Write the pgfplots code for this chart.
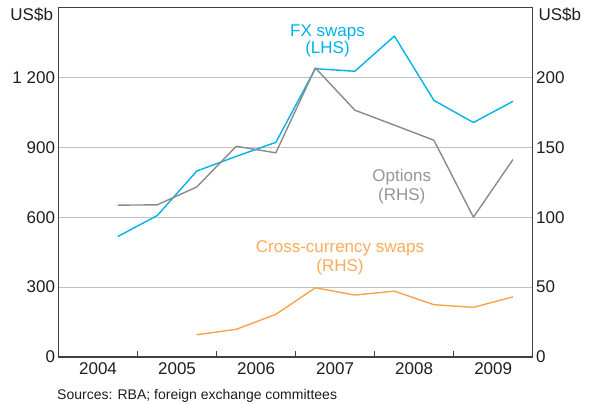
\documentclass[border=0pt]{standalone}
\usepackage{fontspec}
\setmainfont{Liberation Sans}
\usepackage{pgfplots}
\pgfplotsset{compat=1.18}
\definecolor{fxc}{RGB}{0,178,232}
\definecolor{optc}{RGB}{138,138,138}
\definecolor{optt}{RGB}{150,150,150}
\definecolor{ccsc}{RGB}{249,163,74}
\definecolor{ccst}{RGB}{250,172,92}
\definecolor{axc}{RGB}{64,64,64}
\definecolor{gridc}{RGB}{192,192,192}
\definecolor{txtc}{RGB}{30,30,30}
\begin{document}
\begin{tikzpicture}[font=\fontsize{17bp}{20bp}\selectfont]
\pgfplotsset{
  every axis/.append style={
    width=474.2bp, height=349.6bp, scale only axis,
    xmin=2004, xmax=2010,
    axis line style={axc, line width=1.4bp},
    major tick length=0pt,
    tick label style={font=\fontsize{17bp}{20bp}\selectfont, text=txtc},
  },
}
\begin{axis}[name=ax,
  ymin=0, ymax=1500,
  ytick={0,300,600,900,1200},
  yticklabels={0,300,600,900,1 200},
  ytick pos=left,
  ymajorgrids, grid style={gridc, line width=0.9bp},
  xtick={2004.5,2005.5,2006.5,2007.5,2008.5,2009.5},
  xticklabels={2004,2005,2006,2007,2008,2009},
  xtick pos=bottom,
  minor xtick={2005,2006,2007,2008,2009},
  minor tick length=6bp, tick align=inside,
  minor tick style={axc, line width=1.2bp},
  xticklabel style={yshift=-2bp},
  clip=false,
]
\addplot[fxc, line width=1.4bp, line join=round] coordinates {
  (2004.75,517) (2005.25,607) (2005.75,798) (2006.25,861) (2006.75,921)
  (2007.25,1237) (2007.75,1226) (2008.25,1377) (2008.75,1101) (2009.25,1006) (2009.75,1097)
};
\node[fxc, anchor=base] at (axis cs:2007.404,1374) {FX swaps};
\node[fxc, anchor=base] at (axis cs:2007.404,1303) {(LHS)};
\node[optt, anchor=base] at (axis cs:2008.343,753) {Options};
\node[optt, anchor=base] at (axis cs:2008.343,671) {(RHS)};
\node[ccst, anchor=base] at (axis cs:2007.562,447) {Cross-currency swaps};
\node[ccst, anchor=base] at (axis cs:2007.562,366) {(RHS)};
\end{axis}
\begin{axis}[
  ymin=0, ymax=250,
  axis y line*=right, axis x line=none,
  ytick={0,50,100,150,200},
  yticklabels={0,50,100,150,200},
]
\addplot[optc, line width=1.4bp, line join=round] coordinates {
  (2004.75,108.6) (2005.25,108.8) (2005.75,121.6) (2006.25,150.7) (2006.75,146)
  (2007.25,206.7) (2007.75,176.5) (2008.25,165.8) (2008.75,155) (2009.25,100) (2009.75,141.2)
};
\addplot[ccsc, line width=1.4bp, line join=round] coordinates {
  (2005.75,15.9) (2006.25,19.8) (2006.75,30.5) (2007.25,49.5) (2007.75,44.3)
  (2008.25,47.1) (2008.75,37.4) (2009.25,35.5) (2009.75,43)
};
\end{axis}
\node[anchor=base east, inner sep=0pt, text=txtc] at ([xshift=-5.3bp,yshift=-13bp]ax.north west) {US\$b};
\node[anchor=base west, inner sep=0pt, text=txtc] at ([xshift=5.6bp,yshift=-13bp]ax.north east) {US\$b};
\node[anchor=base west, inner sep=0pt, text=txtc, font=\fontsize{14bp}{16bp}\selectfont] at ([xshift=-1.5bp,yshift=-42.5bp]ax.south west) {Sources: RBA; foreign exchange committees};
\pgfresetboundingbox
\path ([xshift=-58.5bp,yshift=-47bp]ax.south west) rectangle ([xshift=62.3bp,yshift=7.4bp]ax.north east);
\end{tikzpicture}
\end{document}
